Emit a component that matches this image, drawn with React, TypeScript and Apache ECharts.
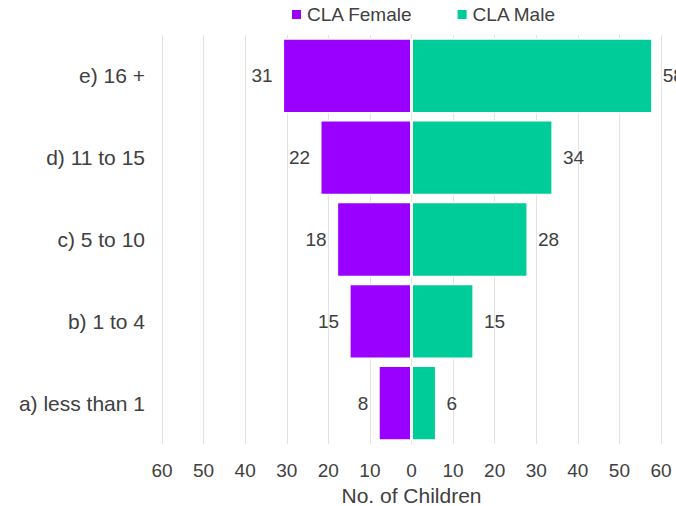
import React, { useEffect, useRef } from "react";
import * as echarts from "echarts";

const categories = ["a) less than 1", "b) 1 to 4", "c) 5 to 10", "d) 11 to 15", "e) 16 +"];
const femaleValues = [8, 15, 18, 22, 31];
const maleValues = [6, 15, 28, 34, 58];
const seriesNames = ["CLA Female", "CLA Male"];
const axisTitle = "No. of Children";

const FONT = "'Liberation Sans', Arial, sans-serif";
const TEXT = "#404040";

export default function App() {
  const ref = useRef<HTMLDivElement>(null);
  useEffect(() => {
    if (!ref.current) return;
    const chart = echarts.init(ref.current, undefined, { renderer: "svg" });
    chart.setOption({
      animation: false,
      textStyle: { fontFamily: FONT },
      legend: {
        top: 0,
        left: 285,
        itemWidth: 11,
        itemHeight: 11,
        itemGap: 43,
        icon: "rect",
        textStyle: { fontSize: 19, color: TEXT, fontFamily: FONT },
        data: seriesNames,
      },
      grid: { left: 162, right: 15, top: 35, bottom: 62, containLabel: false, outerBoundsMode: "none" },
      xAxis: {
        type: "value",
        min: -60,
        max: 60,
        interval: 10,
        name: axisTitle,
        nameLocation: "middle",
        nameGap: 39,
        nameTextStyle: { fontSize: 21, color: TEXT, fontFamily: FONT },
        axisLine: { show: false },
        axisTick: { show: false },
        axisLabel: {
          fontSize: 19,
          color: TEXT,
          margin: 17,
          fontFamily: FONT,
          formatter: (v: number) => String(Math.abs(v)),
        },
        splitLine: { show: true, lineStyle: { color: "#e3e3e3", width: 1 } },
      },
      yAxis: {
        type: "category",
        data: categories,
        axisLine: { show: true, lineStyle: { color: "#e3e3e3" } },
        axisTick: { show: false },
        axisLabel: { fontSize: 21, color: TEXT, margin: 17, fontFamily: FONT },
      },
      series: [
        {
          name: seriesNames[0],
          type: "bar",
          stack: "total",
          barCategoryGap: "8%",
          data: femaleValues.map((v) => -v),
          itemStyle: { color: "#9900FF", borderColor: "#ffffff", borderWidth: 1.5 },
          label: {
            show: true,
            position: "left",
            distance: 10,
            fontSize: 19,
            color: TEXT,
            fontFamily: FONT,
            formatter: (p: any) => String(Math.abs(p.value)),
          },
        },
        {
          name: seriesNames[1],
          type: "bar",
          stack: "total",
          barCategoryGap: "8%",
          data: maleValues,
          itemStyle: { color: "#00CC99", borderColor: "#ffffff", borderWidth: 1.5 },
          label: {
            show: true,
            position: "right",
            distance: 10,
            fontSize: 19,
            color: TEXT,
            fontFamily: FONT,
          },
        },
      ],
    });
    return () => chart.dispose();
  }, []);
  return <div ref={ref} style={{ width: 676, height: 506, position: "absolute", left: 0, top: 0 }} />;
}
